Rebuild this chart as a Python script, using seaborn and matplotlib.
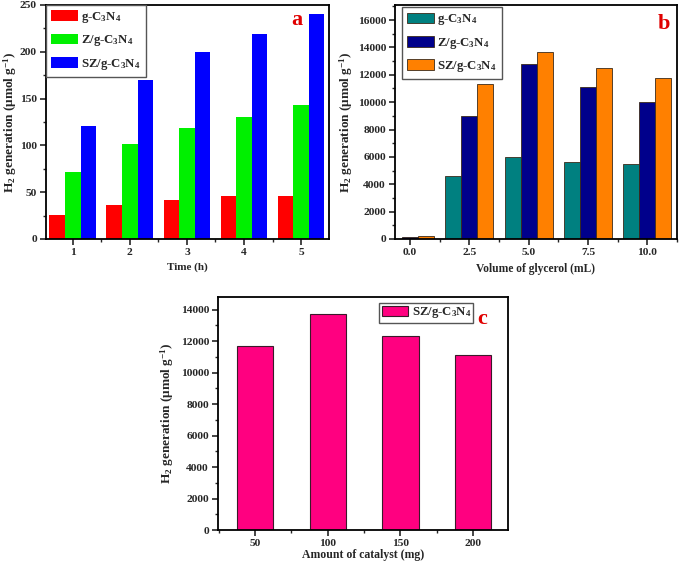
"""
H2 generation over g-C3N4 catalysts - three bar panels (a, b, c)
"""

import pandas as pd
import numpy as np
import matplotlib
matplotlib.use('Agg')
import matplotlib.pyplot as plt
from matplotlib.ticker import AutoMinorLocator, MultipleLocator
import seaborn as sns

sns.set_style('white')
plt.rcParams['font.family'] = ['Liberation Serif', 'DejaVu Serif']
plt.rcParams['font.weight'] = 'bold'
plt.rcParams['mathtext.fontset'] = 'custom'
plt.rcParams['mathtext.rm'] = 'Liberation Serif:bold'
plt.rcParams['mathtext.it'] = 'Liberation Serif:bold'
plt.rcParams['mathtext.bf'] = 'Liberation Serif:bold'

# Data
samples = ['g-C$_3$N$_4$', 'Z/g-C$_3$N$_4$', 'SZ/g-C$_3$N$_4$']

time_h = ['1', '2', '3', '4', '5']
a_gcn = [26, 36, 42, 46, 46]
a_zgcn = [72, 101, 119, 130, 143]
a_szgcn = [121, 170, 200, 219, 240]

glycerol_ml = ['0.0', '2.5', '5.0', '7.5', '10.0']
b_gcn = [0, 4620, 6000, 5620, 5450]
b_zgcn = [120, 8970, 12800, 11130, 10040]
b_szgcn = [220, 11300, 13700, 12470, 11760]

catalyst_mg = ['50', '100', '150', '200']
c_szgcn = [11700, 13700, 12350, 11100]

colors_a = ['#ff0000', '#00f000', '#0000ff']
colors_b = ['#008080', '#00008b', '#ff8000']
color_c = '#ff0080'

ylab = 'H$_2$ generation (μmol g$^{-1}$)'

df_a = pd.DataFrame({'x': time_h * 3,
                     'y': a_gcn + a_zgcn + a_szgcn,
                     'sample': np.repeat(samples, len(time_h))})
df_b = pd.DataFrame({'x': glycerol_ml * 3,
                     'y': b_gcn + b_zgcn + b_szgcn,
                     'sample': np.repeat(samples, len(glycerol_ml))})
df_c = pd.DataFrame({'x': catalyst_mg, 'y': c_szgcn, 'sample': samples[2]})

W, H = 683, 563
fig = plt.figure(figsize=(W / 100, H / 100), dpi=100)


def box(x0, y0, x1, y1):
    return [x0 / W, 1 - y1 / H, (x1 - x0) / W, (y1 - y0) / H]


def style(ax, ymajor):
    for s in ax.spines.values():
        s.set_visible(True)
        s.set_color('black')
        s.set_linewidth(1.3)
    ax.yaxis.set_major_locator(MultipleLocator(ymajor))
    ax.yaxis.set_minor_locator(AutoMinorLocator(2))
    ax.xaxis.set_minor_locator(MultipleLocator(1, offset=0.5))
    ax.tick_params(which='major', direction='out', length=4.5, width=1.2,
                   labelsize=8.2, top=False, right=False, bottom=True, left=True, pad=2)
    ax.tick_params(which='minor', direction='out', length=2.5, width=1.0,
                   top=False, right=False, bottom=True, left=True)
    for lab in ax.get_xticklabels() + ax.get_yticklabels():
        lab.set_fontweight('bold')
    ax.grid(False)


def legend(ax, size=9.2, **kw):
    h, l = ax.get_legend_handles_labels()
    opts = dict(loc='upper left', fancybox=False, framealpha=1, edgecolor='#555555',
                handlelength=2.1, handleheight=0.9, handletextpad=0.25,
                borderaxespad=0.0, labelspacing=0.65, borderpad=0.4,
                prop={'weight': 'bold', 'size': size})
    opts.update(kw)
    leg = ax.legend(h, l, **opts)
    leg.get_frame().set_linewidth(1.0)
    return leg


# a: time
ax = fig.add_axes(box(46, 5, 329, 239))
sns.barplot(data=df_a, x='x', y='y', hue='sample', palette=colors_a, saturation=1,
            width=0.82, linewidth=0, ax=ax)
ax.set_xlim(-0.47, 4.49)
ax.set_ylim(0, 250)
ax.set_xlabel('Time (h)', fontsize=8, fontweight='bold', labelpad=4)
ax.set_ylabel(ylab, fontsize=9.5, fontweight='bold', labelpad=1)
style(ax, 50)
legend(ax)
ax.text(0.885, 0.935, 'a', transform=ax.transAxes, color='#e00000', fontsize=16,
        fontweight='bold', ha='center', va='center')

# b: glycerol volume
ax = fig.add_axes(box(395, 5, 677, 239))
sns.barplot(data=df_b, x='x', y='y', hue='sample', palette=colors_b, saturation=1,
            width=0.81, edgecolor='#3a2a1a', linewidth=0.6, ax=ax)
ax.set_xlim(-0.25, 4.5)
ax.set_ylim(0, 17100)
ax.set_xlabel('Volume of glycerol (mL)', fontsize=8.3, fontweight='bold', labelpad=4)
ax.set_ylabel(ylab, fontsize=9.5, fontweight='bold', labelpad=2)
style(ax, 2000)
legend(ax, bbox_to_anchor=(0.025, 0.99))
ax.text(0.955, 0.92, 'b', transform=ax.transAxes, color='#e00000', fontsize=16,
        fontweight='bold', ha='center', va='center')

# c: catalyst amount
ax = fig.add_axes(box(218, 297, 508, 530))
sns.barplot(data=df_c, x='x', y='y', hue='sample', palette=[color_c], saturation=1,
            width=0.5, edgecolor='#3a1a2a', linewidth=0.8, ax=ax)
ax.set_xlim(-0.51, 3.48)
ax.set_ylim(0, 14800)
ax.set_xlabel('Amount of catalyst (mg)', fontsize=8.5, fontweight='bold', labelpad=1)
ax.set_ylabel(ylab, fontsize=9.5, fontweight='bold', labelpad=3)
style(ax, 2000)
legend(ax, size=9.2, bbox_to_anchor=(0.555, 0.975), borderpad=0.2,
       handleheight=0.8)
ax.text(0.91, 0.905, 'c', transform=ax.transAxes, color='#e00000', fontsize=16,
        fontweight='bold', ha='center', va='center')

fig.savefig('out.png', dpi=100)
plt.close(fig)
print('saved out.png')
